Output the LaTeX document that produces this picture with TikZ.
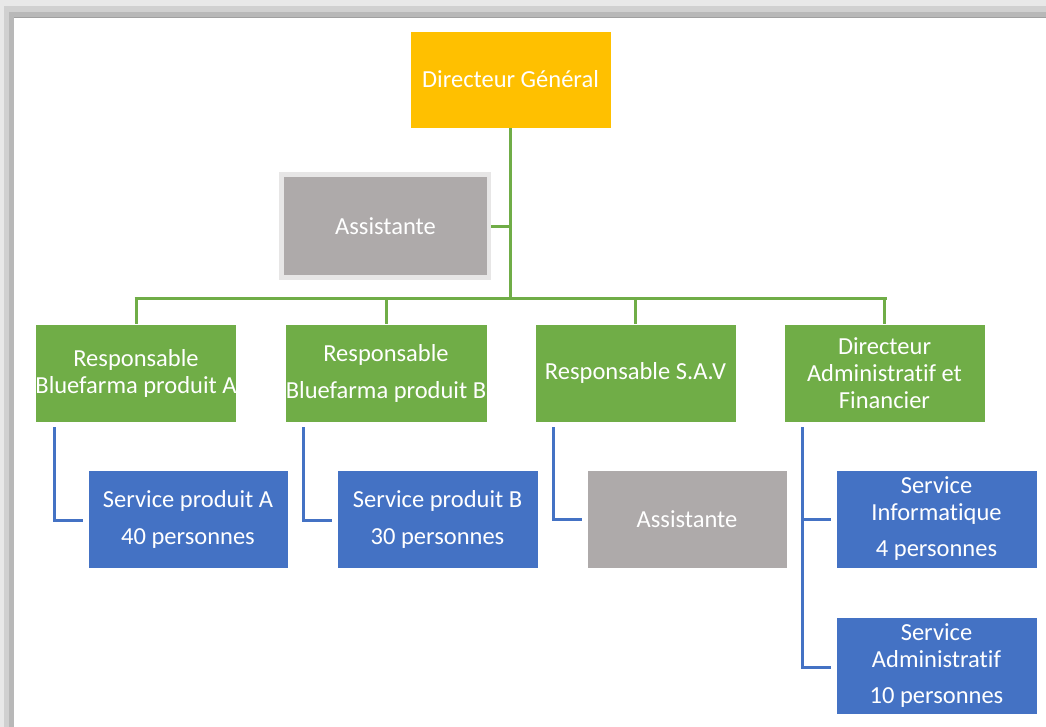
\documentclass[tikz,border=0pt]{standalone}
\usepackage{fontspec}
\setmainfont{Carlito}[Ligatures=NoCommon]
\definecolor{gyellow}{HTML}{FFC000}
\definecolor{ggreen}{HTML}{70AD47}
\definecolor{gblue}{HTML}{4472C4}
\definecolor{ggray}{HTML}{AEAAAA}
\definecolor{gframe}{HTML}{E7E6E6}
\definecolor{sh1}{HTML}{E8E8E8}
\definecolor{sh2}{HTML}{D0D0D0}
\definecolor{sh3}{HTML}{B8B8B8}
\definecolor{sh4}{HTML}{A0A0A0}
\begin{document}
\begin{tikzpicture}[x=1pt,y=-1pt,
  box/.style={draw=white, line width=0.6pt, text=white, align=center, inner sep=0pt,
     font=\fontsize{24.5}{27}\selectfont},
  gline/.style={draw=ggreen, line width=3pt},
  bline/.style={draw=gblue, line width=3pt}]
\useasboundingbox (0,0) rectangle (1046,727);
\fill[white] (0,0) rectangle (1046,727);
% shadow bands
\fill[sh1] (0,0) rectangle (1046,6);
\fill[sh1] (0,0) rectangle (4,727);
\fill[sh2] (4,6) rectangle (1046,12);
\fill[sh2] (4,6) rectangle (9,727);
\fill[sh3] (9,12) rectangle (1046,17);
\fill[sh3] (9,12) rectangle (14,727);
\fill[sh4] (14,17) rectangle (1046,18);
% top
\node[box, fill=gyellow, minimum width=201, minimum height=97] (dg) at (510.5,79.5) {Directeur Général};
\node[fill=gframe, minimum width=212, minimum height=108, inner sep=0pt] (asfr) at (385,226) {};
\node[box, draw=none, fill=ggray, minimum width=203, minimum height=98] (as1) at (385.5,226) {Assistante};
% second level
\node[box, fill=ggreen, minimum width=200, minimum height=98] (ra) at (136,373) {Responsable\\Bluefarma produit A};
\node[box, fill=ggreen, minimum width=202, minimum height=98] (rb) at (386,373) {Responsable\\[10pt]Bluefarma produit B};
\node[box, fill=ggreen, minimum width=201, minimum height=98] (rs) at (635.5,373) {Responsable S.A.V};
\node[box, fill=ggreen, minimum width=201, minimum height=98] (daf) at (884.5,373) {Directeur\\Administratif et\\Financier};
% third level
\node[box, fill=gblue, minimum width=200, minimum height=98] (sa) at (188,519) {Service produit A\\[10pt]40 personnes};
\node[box, fill=gblue, minimum width=201, minimum height=98] (sb) at (437.5,519) {Service produit B\\[10pt]30 personnes};
\node[box, fill=ggray, minimum width=200, minimum height=98] (as2) at (687,519) {Assistante};
\node[box, fill=gblue, minimum width=201, minimum height=98] (si) at (936.5,519) {Service\\Informatique\\[9pt]4 personnes};
\node[box, fill=gblue, minimum width=201, minimum height=97] (sad) at (936.5,665.5) {Service\\Administratif\\[9pt]10 personnes};
% green connectors
\coordinate (bus) at (510.5,298);
\draw[gline] (dg.south) -- (bus);
\draw[gline] (asfr.east |- 0,227) -- (510.5,227);
\draw[gline] (134.5,298) -- (886.5,298);
\draw[gline] (ra.north |- bus) -- (ra.north);
\draw[gline] (rb.north |- bus) -- (rb.north);
\draw[gline] (rs.north |- bus) -- (rs.north);
\draw[gline] (daf.north |- bus) -- (daf.north);
% blue connectors
\draw[bline] (54,427) -- (54,520) -- (83,520);
\draw[bline] (303,427) -- (303,520) -- (332,520);
\draw[bline] (553,427) -- (553,519) -- (582,519);
\draw[bline] (802,427) -- (802,667) -- (831,667);
\draw[bline] (802,519) -- (831,519);
\end{tikzpicture}
\end{document}
